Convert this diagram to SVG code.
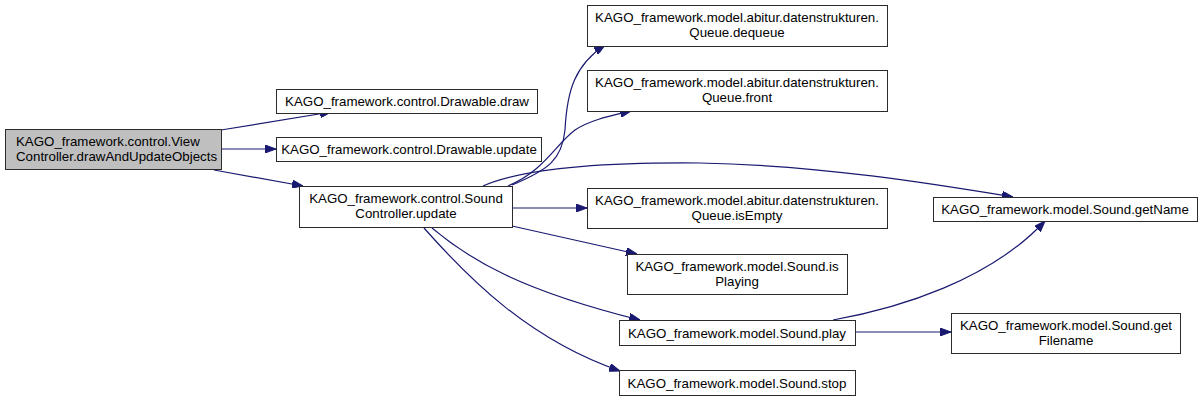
<svg xmlns="http://www.w3.org/2000/svg" width="1203" height="402" viewBox="0 0 1203 402">
<style>
.box{fill:#ffffff;stroke:#2b2b2b;stroke-width:1}
.root{fill:#bfbfbf;stroke:#2b2b2b;stroke-width:1}
text{font-family:"Liberation Sans",Arial,sans-serif;font-size:13.3px;fill:#000}
.c{text-anchor:middle}
.edge{fill:none;stroke:#191970;stroke-width:1.2;marker-end:url(#arr)}
</style>
<defs>
<marker id="arr" viewBox="0 0 11 8" refX="11" refY="4" markerWidth="11" markerHeight="8" markerUnits="userSpaceOnUse" orient="auto">
<path d="M0,0 L11,4 L0,8 z" fill="#191970" stroke="#191970"/>
</marker>
</defs>
<g id="connectors">
<path class="edge" d="M221,130 L331,112"/>
<path class="edge" d="M221,149 L276,149"/>
<path class="edge" d="M214,170 L303,186"/>
<path class="edge" d="M512,185 C548,170 562,160 565,130 C567,90 575,65 605,45"/>
<path class="edge" d="M508,186 C545,170 555,145 575,130 C590,120 610,116 631,111"/>
<path class="edge" d="M483,186 C520,170 590,162 700,163 C820,165 940,185 1013,197"/>
<path class="edge" d="M512,208 L587,208"/>
<path class="edge" d="M512,226 L637,254"/>
<path class="edge" d="M432,228 C470,260 520,290 640,320"/>
<path class="edge" d="M424,228 C470,280 530,340 620,371"/>
<path class="edge" d="M833,320 C900,308 990,280 1045,221"/>
<path class="edge" d="M855,332 L951,332"/>
</g>
<g id="n_viewcontroller">
<rect class="root" x="5.5" y="129.5" width="216" height="40"/>
<text x="16" y="146">KAGO_framework.control.View</text>
<text x="16" y="161">Controller.drawAndUpdateObjects</text>
</g>
<g id="n_draw">
<rect class="box" x="276.5" y="89.5" width="261" height="24"/>
<text class="c" x="407" y="106">KAGO_framework.control.Drawable.draw</text>
</g>
<g id="n_update">
<rect class="box" x="276.5" y="137.5" width="265" height="24"/>
<text class="c" x="409" y="154">KAGO_framework.control.Drawable.update</text>
</g>
<g id="n_soundcontroller">
<rect class="box" x="299.5" y="186.5" width="213" height="41"/>
<text class="c" x="406" y="203">KAGO_framework.control.Sound</text>
<text class="c" x="406" y="218">Controller.update</text>
</g>
<g id="n_dequeue">
<rect class="box" x="587.5" y="5.5" width="300" height="41"/>
<text class="c" x="737" y="22">KAGO_framework.model.abitur.datenstrukturen.</text>
<text class="c" x="737" y="37">Queue.dequeue</text>
</g>
<g id="n_front">
<rect class="box" x="587.5" y="70.5" width="300" height="41"/>
<text class="c" x="737" y="87">KAGO_framework.model.abitur.datenstrukturen.</text>
<text class="c" x="737" y="102">Queue.front</text>
</g>
<g id="n_isempty">
<rect class="box" x="587.5" y="188.5" width="300" height="40"/>
<text class="c" x="737" y="205">KAGO_framework.model.abitur.datenstrukturen.</text>
<text class="c" x="737" y="220">Queue.isEmpty</text>
</g>
<g id="n_isplaying">
<rect class="box" x="627.5" y="254.5" width="220" height="40"/>
<text class="c" x="737" y="271">KAGO_framework.model.Sound.is</text>
<text class="c" x="737" y="286">Playing</text>
</g>
<g id="n_play">
<rect class="box" x="619.5" y="320.5" width="236" height="25"/>
<text class="c" x="737" y="338">KAGO_framework.model.Sound.play</text>
</g>
<g id="n_stop">
<rect class="box" x="619.5" y="370.5" width="236" height="25"/>
<text class="c" x="737" y="388">KAGO_framework.model.Sound.stop</text>
</g>
<g id="n_getname">
<rect class="box" x="933.5" y="197.5" width="264" height="24"/>
<text class="c" x="1065" y="214">KAGO_framework.model.Sound.getName</text>
</g>
<g id="n_getfilename">
<rect class="box" x="951.5" y="313.5" width="229" height="40"/>
<text class="c" x="1066" y="330">KAGO_framework.model.Sound.get</text>
<text class="c" x="1066" y="345">Filename</text>
</g>
</svg>
